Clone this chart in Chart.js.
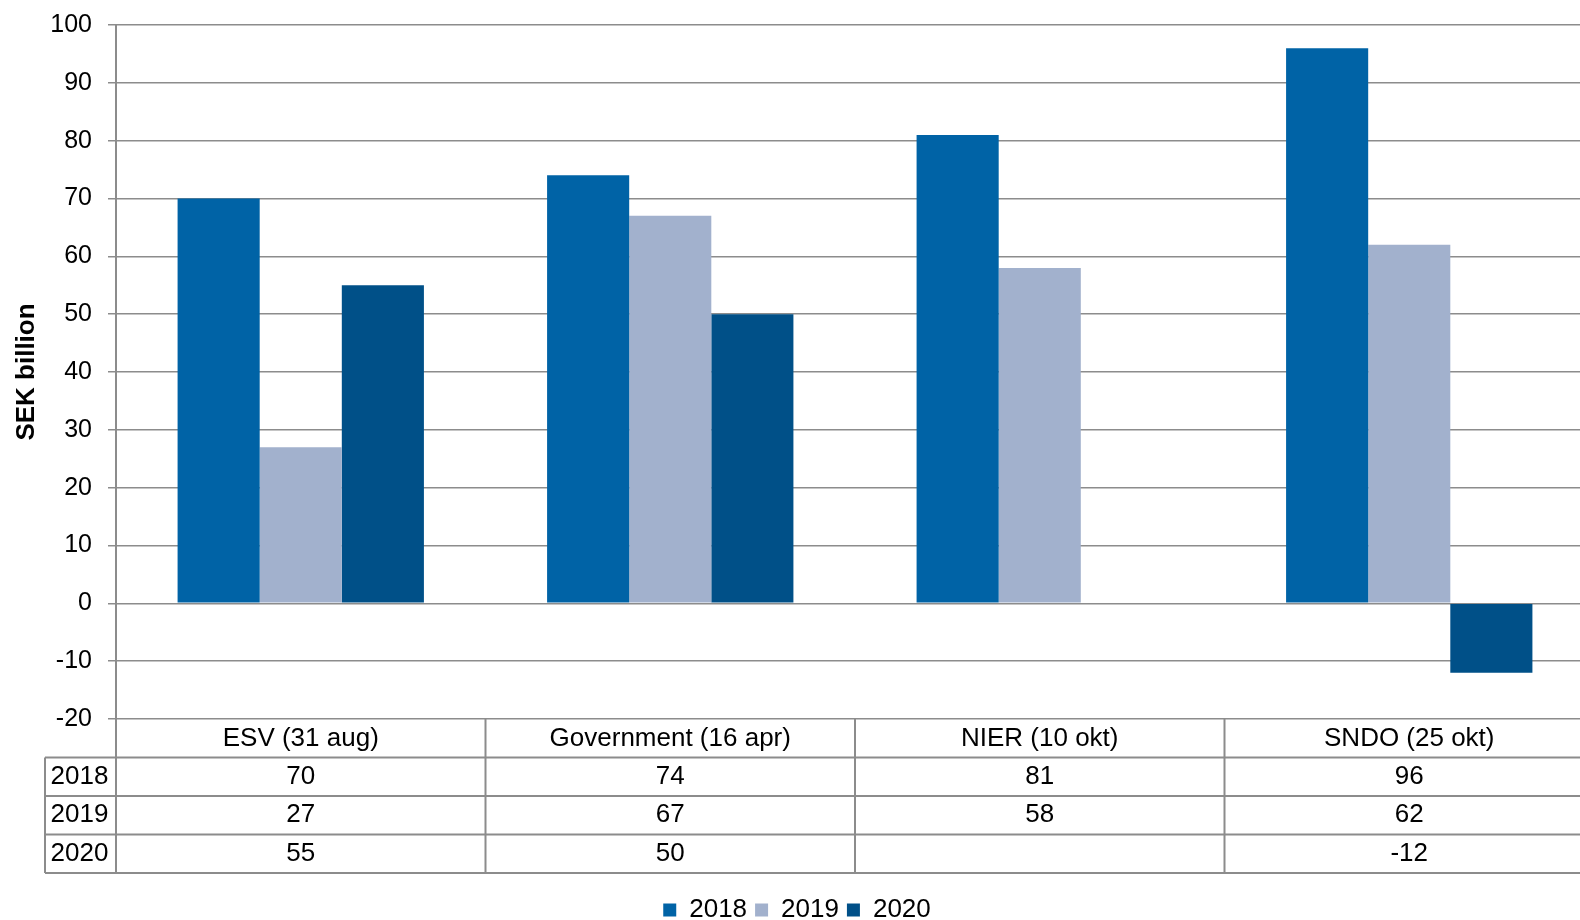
<!DOCTYPE html>
<html>
<head>
<meta charset="utf-8">
<script src="https://cdn.jsdelivr.net/npm/chart.js@4.4.1/dist/chart.umd.min.js"></script>
<style>
  html, body { margin: 0; padding: 0; overflow: hidden; background: #fff; }
  #wrap { width: 1580px; height: 920px; overflow: hidden; }
</style>
</head>
<body>
<div id="wrap"><canvas id="chart" width="1600" height="933"></canvas></div>
<script>
const categories = ['ESV (31 aug)', 'Government (16 apr)', 'NIER (10 okt)', 'SNDO (25 okt)'];
const years = ['2018', '2019', '2020'];
const values2018 = [70, 74, 81, 96];
const values2019 = [27, 67, 58, 62];
const values2020 = [55, 50, null, -12];
const colors = ['#0063a6', '#a2b1cd', '#005088'];
const yTicks = { min: -20, max: 100, step: 10 };

const seriesValues = [values2018, values2019, values2020];
const gridGray = '#8c8c8c';
const font = 'Liberation Sans, Arial, sans-serif';

// data table under the plot, columns follow the x scale
const dataTable = {
  id: 'dataTable',
  afterDraw(chart) {
    const ctx = chart.ctx;
    const x = chart.scales.x;
    const area = chart.chartArea;
    const rowH = 38.5;
    const top = area.bottom;
    const tableLeft = 45;
    const right = chart.width;
    const catW = x.width / categories.length;

    ctx.save();
    ctx.strokeStyle = gridGray;
    ctx.lineWidth = 2;
    ctx.beginPath();
    for (let k = 1; k <= 4; k++) {
      ctx.moveTo(tableLeft, top + rowH * k);
      ctx.lineTo(right, top + rowH * k);
    }
    ctx.moveTo(tableLeft, top + rowH);
    ctx.lineTo(tableLeft, top + rowH * 4);
    for (let i = 0; i < categories.length; i++) {
      const bx = x.getPixelForValue(i) - catW / 2;
      ctx.moveTo(bx, top);
      ctx.lineTo(bx, top + rowH * 4);
    }
    ctx.stroke();

    ctx.fillStyle = '#000';
    ctx.font = '26px ' + font;
    ctx.textAlign = 'center';
    ctx.textBaseline = 'middle';
    years.forEach((yr, r) => {
      const cy = top + rowH * (r + 1.5);
      ctx.fillText(yr, (tableLeft + area.left) / 2 - 1, cy);
      seriesValues[r].forEach((v, i) => {
        if (v === null) return;
        ctx.fillText(String(v), x.getPixelForValue(i), cy);
      });
    });
    ctx.restore();
  }
};

new Chart(document.getElementById('chart'), {
  type: 'bar',
  data: {
    labels: categories,
    datasets: years.map((yr, i) => ({
      label: yr,
      data: seriesValues[i],
      backgroundColor: colors[i],
      borderWidth: 0,
      categoryPercentage: 3 / 4.5,
      barPercentage: 1
    }))
  },
  options: {
    responsive: false,
    animation: false,
    layout: { padding: { top: 25, right: 6, left: 0, bottom: 0 } },
    plugins: {
      legend: {
        position: 'bottom',
        labels: {
          font: { family: font, size: 26 },
          color: '#000',
          boxWidth: 13,
          boxHeight: 13,
          padding: 8
        }
      },
      tooltip: { enabled: false }
    },
    scales: {
      x: {
        grid: { display: false, drawTicks: false },
        border: { display: false },
        ticks: {
          font: { family: font, size: 26 },
          color: '#000',
          padding: 4,
          maxRotation: 0,
          autoSkip: false
        },
        afterFit(scale) { scale.height = 170; }
      },
      y: {
        min: yTicks.min,
        max: yTicks.max,
        ticks: {
          stepSize: yTicks.step,
          font: { family: font, size: 25 },
          color: '#000',
          padding: 16
        },
        grid: { color: gridGray, lineWidth: 1.5, tickLength: 8 },
        border: { color: gridGray, width: 2 },
        title: {
          display: true,
          text: 'SEK billion',
          font: { family: font, size: 26, weight: 'bold' },
          color: '#000',
          padding: { top: 11, bottom: 0 }
        },
        afterFit(scale) {
          scale.width = 116;
          scale.paddingTop = 0;
          scale.paddingBottom = 0;
        }
      }
    }
  },
  plugins: [dataTable]
});
</script>
</body>
</html>
